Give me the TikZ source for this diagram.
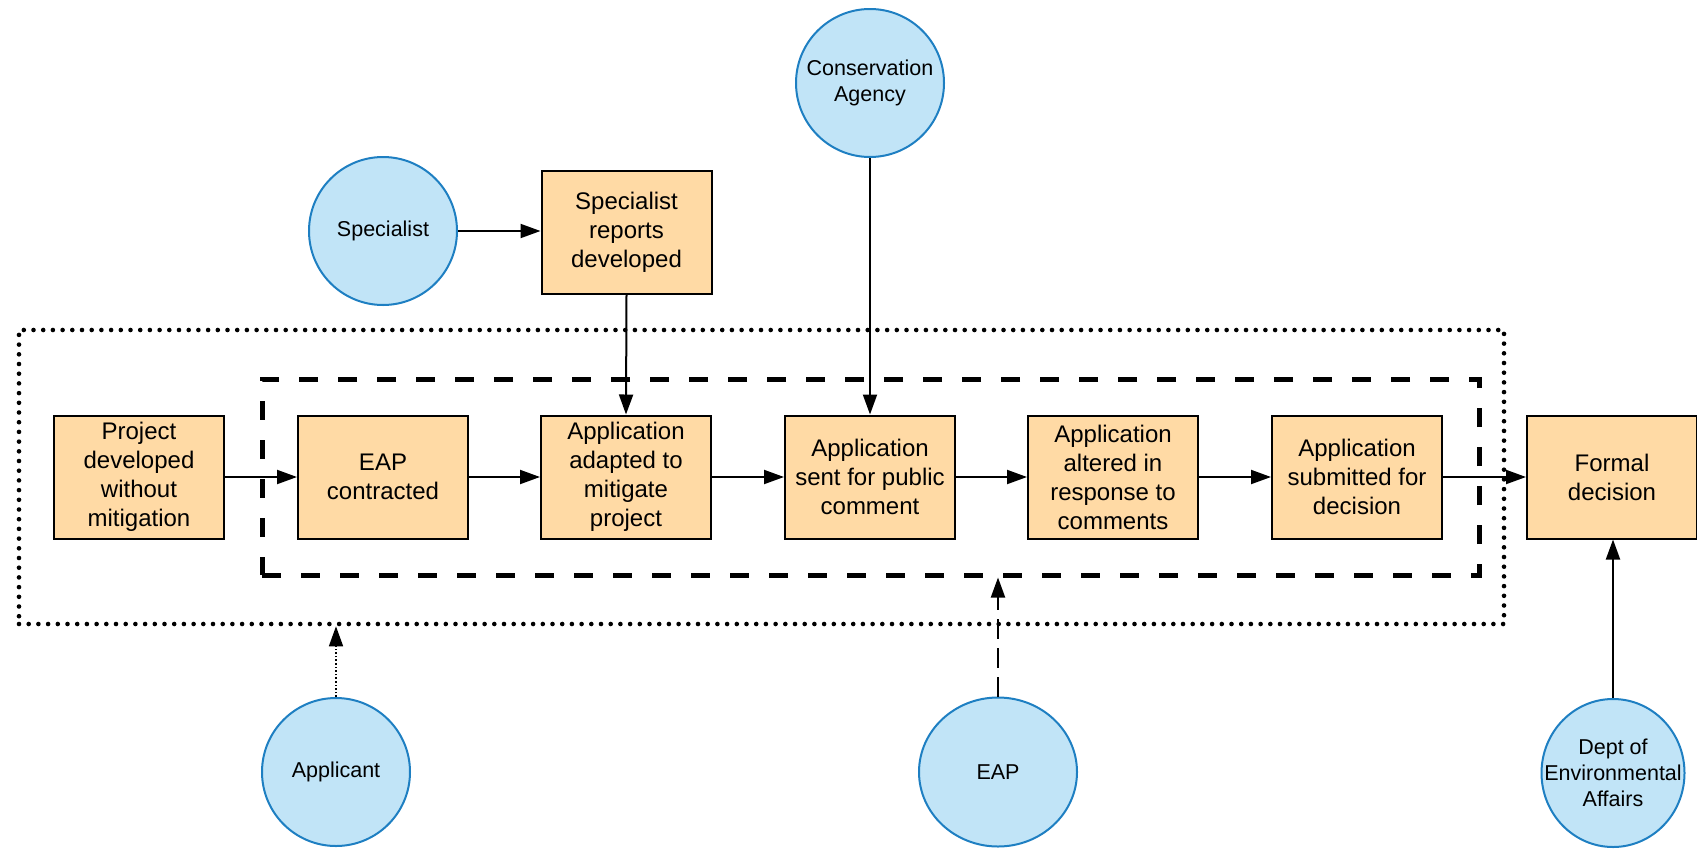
\documentclass[tikz,border=0pt]{standalone}
\usepackage{fontspec}
\setmainfont{Liberation Sans}
\usetikzlibrary{arrows.meta,shapes.geometric}
\definecolor{boxfill}{RGB}{255,218,165}
\definecolor{actorfill}{RGB}{193,228,247}
\definecolor{actorline}{RGB}{30,127,194}
\begin{document}
\begin{tikzpicture}[x=1pt,y=-1pt,
  stage/.style={draw=black, line width=2pt, fill=boxfill, rectangle,
    minimum width=170pt, minimum height=123pt, inner sep=0pt,
    align=center, font=\fontsize{24}{29}\selectfont},
  actor/.style={draw=actorline, line width=2pt, fill=actorfill, circle,
    inner sep=0pt, minimum size=148pt},
  actoroval/.style={actor, ellipse},
  actortext/.style={align=center, inner sep=0pt,
    font=\fontsize{21.5}{26}\selectfont},
  outerframe/.style={draw=black, line width=4.6pt, line cap=round,
    dash pattern=on 0pt off 9.7pt, rectangle, inner sep=0pt},
  innerframe/.style={draw=black, line width=5pt,
    dash pattern=on 19pt off 20pt, rectangle, inner sep=0pt},
  flow/.style={draw=black, line width=2pt, -{Triangle[length=20pt,width=14pt]}},
  dotflow/.style={flow, line width=1.6pt, dash pattern=on 1.6pt off 2pt},
  dashflow/.style={flow, dash pattern=on 20pt off 9pt},
]
\useasboundingbox (0,0) rectangle (1697,849);

% process frames
\node[outerframe, minimum width=1485pt, minimum height=294pt] (outer) at (761.5,477) {};
\node[innerframe, minimum width=1217pt, minimum height=196pt] (inner) at (870.5,477) {};

% process steps
\node[stage] (p1) at (139,477) {Project\\developed\\without\\mitigation};
\node[stage] (p2) at (383,477) {EAP\\contracted};
\node[stage] (p3) at (626,477) {Application\\adapted to\\mitigate\\project};
\node[stage] (p4) at (870,477) {Application\\sent for public\\comment};
\node[stage] (p5) at (1113,477) {Application\\altered in\\response to\\comments};
\node[stage] (p6) at (1357,477) {Application\\submitted for\\decision};
\node[stage] (p7) at (1612,477) {Formal\\decision};
\node[stage] (rep) at (626.5,232) {Specialist\\reports\\developed};

% actors
\node[actor] (spec) at (383,231) {};
\node[actortext] (spec-t) at (spec) {Specialist};
\node[actor] (cons) at (870,83) {};
\node[actortext] (cons-t) at (cons) {Conservation\\Agency};
\node[actor] (app) at (336,772) {};
\node[actortext] (app-t) at (app) {Applicant};
\node[actoroval, minimum width=158pt, minimum height=149pt] (eap) at (998,772) {};
\node[actortext] (eap-t) at (eap) {EAP};
\node[actoroval, minimum width=143pt, minimum height=148pt] (dea) at (1613,773) {};
\node[actortext] (dea-t) at (dea) {Dept of\\Environmental\\Affairs};

% main flow
\draw[flow] (p1) -- (p2);
\draw[flow] (p2) -- (p3);
\draw[flow] (p3) -- (p4);
\draw[flow] (p4) -- (p5);
\draw[flow] (p5) -- (p6);
\draw[flow] (p6) -- (p7);

% inputs
\draw[flow] (spec.east) -- (spec.east -| rep.west);
\draw[flow] (rep.south) -- (p3.north);
\draw[flow] (cons.south) -- (cons.south |- p4.north);
\draw[flow] (dea.north) -- (dea.north |- p7.south);
\draw[dotflow] (app.north) -- (app.north |- outer.south);
\draw[dashflow] (eap.north) -- (eap.north |- inner.south);
\end{tikzpicture}
\end{document}
